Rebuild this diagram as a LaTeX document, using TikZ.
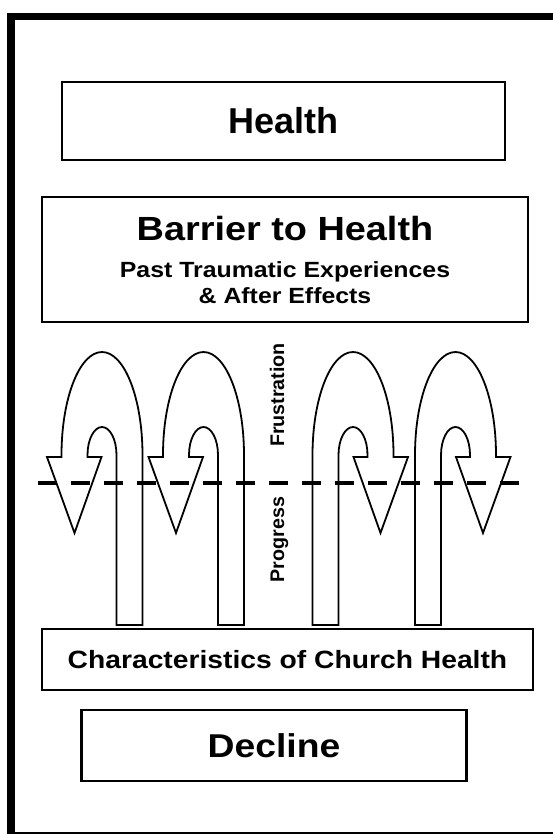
\documentclass[tikz,border=0pt]{standalone}
\usepackage{fontspec}
\setmainfont{Liberation Sans}
\newfontfamily\widesans[FakeStretch=1.13]{Liberation Sans}
\usetikzlibrary{positioning}

\tikzset{
  panel/.style={draw, line width=2.2pt, inner sep=0pt, align=center},
  uturn/.style={draw, fill=white, line width=1.8pt, line join=miter},
  sidelabel/.style={font=\bfseries\fontsize{19.7}{22}\selectfont, rotate=90, anchor=base, inner sep=0pt}
}

\begin{document}
\begin{tikzpicture}[x=1pt, y=-1pt]
    \useasboundingbox (0,0) rectangle (553,834);
    % outer frame, cut at the right and bottom edges
    \begin{scope}
      \clip (0,0) rectangle (553,834);
      \draw[line width=7.5pt] (11,16.5) rectangle (570,836);
    \end{scope}
    % Health
    \node[panel, minimum width=443pt, minimum height=78pt,
          font=\bfseries\fontsize{36}{40}\selectfont] (health) at (283.5,121) {Health};
    % Barrier to Health
    \node[panel, minimum width=486pt, minimum height=125pt,
          font=\widesans\bfseries\fontsize{22}{26}\selectfont] (barrier) at (285,259.5)
      {{\fontsize{33.5}{38}\selectfont Barrier to Health}\\[11pt]
       Past Traumatic Experiences\\
       \& After Effects};
    % U-turn arrows: two loop left, two loop right
    \foreach \cx/\dir in {129.5/1, 231/1, 325.5/-1, 428/-1} {
      \begin{scope}[shift={(\cx,0)}, xscale=\dir]
        \draw[uturn] (13,625) -- (13,455)
          arc[start angle=0, end angle=-180, x radius=40.5, y radius=103]
          -- (-68,457) -- (-82.5,457) -- (-55,533) -- (-28,457) -- (-42,457) -- (-42,455)
          arc[start angle=180, end angle=360, x radius=14.5, y radius=28]
          -- (-13,625) -- cycle;
      \end{scope}
    }
    % dashed divider
    \coordinate (divL) at (38,483);
    \coordinate (divR) at (520,483);
    \draw[line width=3.5pt, dash pattern=on 19pt off 14pt] (divL) -- (divR);
    \node[sidelabel] (frust) at (284,395) {Frustration};
    \node[sidelabel] (prog) at (284,539.5) {Progress};
    % Characteristics of Church Health
    \node[panel, minimum width=491pt, minimum height=61pt,
          font=\widesans\bfseries\fontsize{25}{30}\selectfont] (traits) at (287.5,659.5) {Characteristics of Church Health};
    % Decline
    \node[panel, minimum width=385pt, minimum height=71pt,
          font=\widesans\bfseries\fontsize{33}{38}\selectfont] (decline) at (274,745.5) {Decline};
\end{tikzpicture}
\end{document}
